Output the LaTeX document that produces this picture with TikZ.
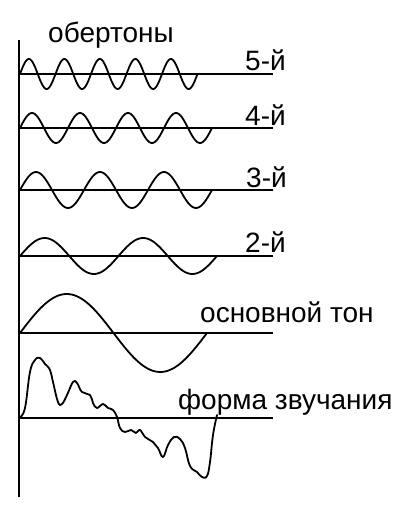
\documentclass[tikz,border=0pt]{standalone}
\usepackage{fontspec}
\setmainfont{Liberation Sans}
\usetikzlibrary{positioning}

\begin{document}
\begin{tikzpicture}[x=1pt,y=-1pt,
        wave/.style={line width=1.8pt,line join=round,line cap=round},
        axisline/.style={line width=1.4pt},
        lbl/.style={anchor=base west,inner sep=0pt,font=\fontsize{28}{32}\selectfont}]
        \useasboundingbox (0,0) rectangle (415,510);
        % axis and zero lines
        \draw[axisline] (19,40) -- (19,497);
        \foreach \yb in {74,128,190,256,333,418}
            \draw[axisline] (19,\yb) -- (273,\yb);
        % overtones
        \draw[wave] plot[domain=0:5, samples=200, smooth] ({20+\x*35.5},{74-15*sin(\x*360)});
        \draw[wave] plot[domain=0:4, samples=160, smooth] ({20+\x*48},{128-15*sin(\x*360)});
        \draw[wave] plot[domain=0:3, samples=120, smooth] ({20+\x*64},{190-18*sin(\x*360)});
        \draw[wave] plot[domain=0:2, samples=100, smooth] ({20+\x*98.5},{256-18*sin(\x*360)});
        % fundamental
        \draw[wave] plot[domain=0:1, samples=80, smooth] ({20+\x*187},{333-39*sin(\x*360)});
        % resulting sound
        \draw[wave] plot[smooth, tension=0.7] coordinates {
            (20,417) (25,408) (30,372) (35,360) (40,358) (45,364) (50,370)
            (53,382) (58,402) (62,404) (67,395) (73,382) (77,383) (82,392)
            (90,395) (93,403) (97,408) (103,404) (108,408) (113,410) (117,417)
            (120,428) (125,432) (131,430) (136,433) (140,430) (145,437) (153,442)
            (158,448) (163,457) (168,445) (174,437) (180,439) (185,448) (190,466)
            (197,472) (202,477) (207,476) (210,462) (213,435) (217,415)};
        % labels
        \node[lbl] (overtones) at (48,43) {обертоны};
        \node[lbl] (h5) at (245,71) {5-й};
        \node[lbl] (h4) at (245,126) {4-й};
        \node[lbl] (h3) at (246,188) {3-й};
        \node[lbl] (h2) at (245,252) {2-й};
        \node[lbl] (fund) at (200,322) {основной тон};
        \node[lbl] (sound) at (178,409) {форма звучания};
\end{tikzpicture}
\end{document}
